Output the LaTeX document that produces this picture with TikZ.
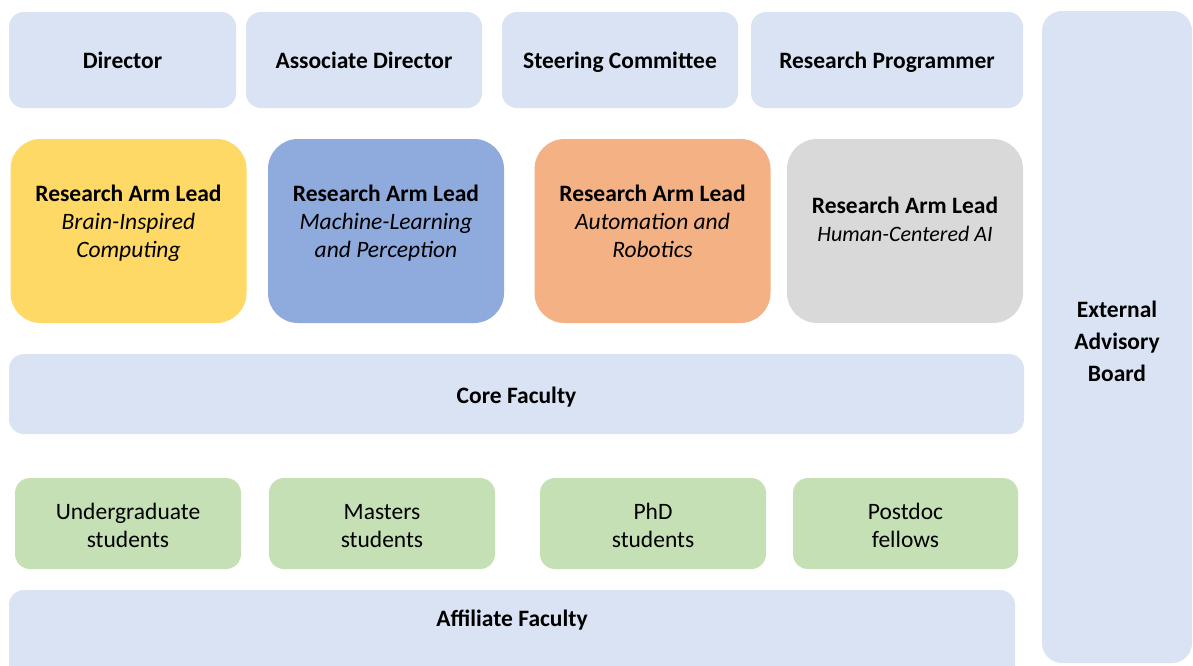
\documentclass[tikz,border=0pt]{standalone}
\usepackage{fontspec}
\setmainfont{Carlito}
\definecolor{lb}{HTML}{DAE3F3}
\definecolor{yel}{HTML}{FFD966}
\definecolor{blu}{HTML}{8FAADC}
\definecolor{org}{HTML}{F4B183}
\definecolor{gry}{HTML}{D9D9D9}
\definecolor{grn}{HTML}{C5E0B4}
% line struts: every line gets the same height and depth
\newcommand\ls{\rule[-8pt]{0pt}{28pt}}
\newcommand\lsw{\rule[-9pt]{0pt}{31pt}}
\begin{document}
\begin{tikzpicture}[x=1pt,y=-1pt,
  base/.style={inner sep=0pt, align=center, font=\fontsize{23.5}{28}\selectfont},
  bold/.style={base, font=\fontsize{23.5}{28}\selectfont\bfseries},
  topbox/.style={fill=lb, rounded corners=15pt, minimum height=96pt},
  armbox/.style={rounded corners=30pt, minimum height=184pt, minimum width=236pt},
  widebox/.style={fill=lb, rounded corners=15pt},
  stud/.style={fill=grn, rounded corners=15pt, minimum width=226pt, minimum height=91pt}]
\useasboundingbox (0,0) rectangle (1193,665);
\fill[white] (0,0) rectangle (1193,665);
\begin{scope}
\clip (0,0) rectangle (1193,665);
% leadership row
\node[topbox, minimum width=227pt] (dir) at (122.5,60) {};
\node[topbox, minimum width=236pt] (adir) at (364,60) {};
\node[topbox, minimum width=236pt] (steer) at (620,60) {};
\node[topbox, minimum width=272pt] (prog) at (887,60) {};
\node[bold] (dirt) at (122.5,62.3) {\ls Director};
\node[bold] (adirt) at (364,62.3) {\ls Associate Director};
\node[bold] (steert) at (620,62.3) {\ls Steering Committee};
\node[bold] (progt) at (887,62.3) {\ls Research Programmer};
% research arms
\node[armbox, fill=yel] (arm1) at (128.5,231) {};
\node[armbox, fill=blu] (arm2) at (386,231) {};
\node[armbox, fill=org] (arm3) at (652.5,231) {};
\node[armbox, fill=gry] (arm4) at (905,231) {};
\node[base] (arm1t) at (128.5,223) {\ls\textbf{Research Arm Lead}\\\ls\textit{Brain-Inspired}\\\ls\textit{Computing}};
\node[base] (arm2t) at (386,223) {\ls\textbf{Research Arm Lead}\\\ls\textit{Machine-Learning}\\\ls\textit{and Perception}};
\node[base] (arm3t) at (652.5,223) {\ls\textbf{Research Arm Lead}\\\ls\textit{Automation and}\\\ls\textit{Robotics}};
\node[base] (arm4t) at (905,221.3) {\ls\textbf{Research Arm Lead}\\\ls{\fontsize{22}{28}\selectfont\textit{Human-Centered AI}}};
% faculty
\node[widebox, minimum width=1015pt, minimum height=80pt] (core) at (516.5,394) {};
\node[bold] (coret) at (516.5,397) {\ls Core Faculty};
% students
\node[stud] (ug) at (128,523.5) {};
\node[stud] (ms) at (382,523.5) {};
\node[stud] (phd) at (653,523.5) {};
\node[stud, minimum width=225pt] (pd) at (905.5,523.5) {};
\node[base] (ugt) at (128,527) {\ls Undergraduate\\\ls students};
\node[base] (mst) at (382,527) {\ls Masters\\\ls students};
\node[base] (phdt) at (653,527) {\ls PhD\\\ls students};
\node[base] (pdt) at (905.5,527) {\ls Postdoc\\\ls fellows};
% affiliate faculty runs past the lower edge
\fill[lb, rounded corners=15pt] (9,590) rectangle (1015,720);
\node[bold] (aff) at (512,620.7) {\ls Affiliate Faculty};
% advisory board
\node[widebox, rounded corners=20pt, minimum width=150pt, minimum height=652pt] (ext) at (1117,337) {};
\node[bold] (extt) at (1117,343) {\lsw External\\\lsw Advisory\\\lsw Board};
\end{scope}
\end{tikzpicture}
\end{document}
